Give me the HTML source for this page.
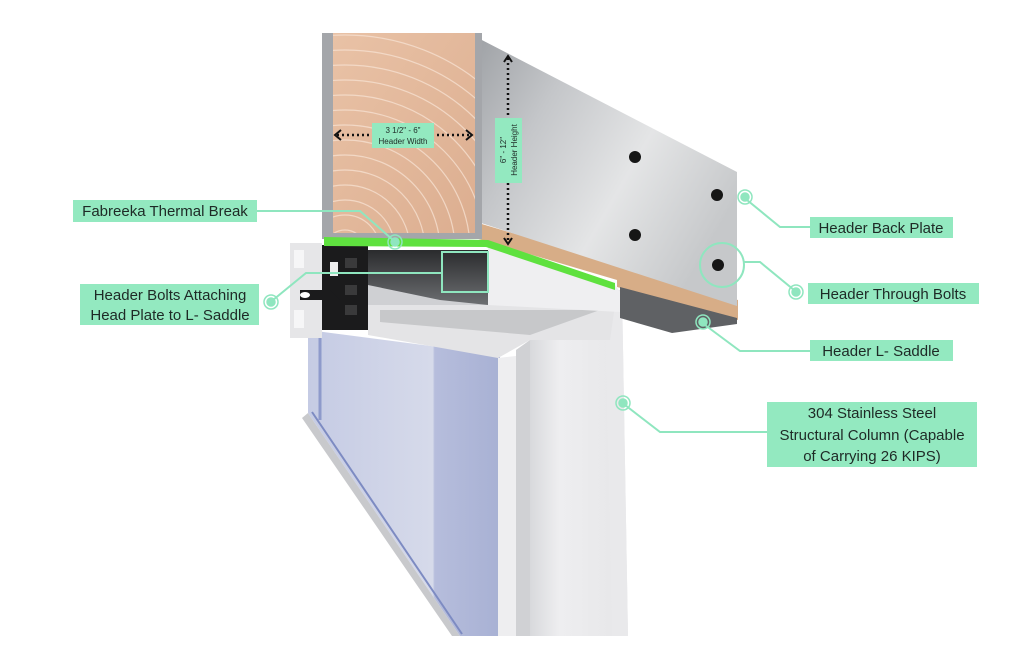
<!DOCTYPE html>
<html><head><meta charset="utf-8"><style>
html,body{margin:0;padding:0;background:#fff;width:1024px;height:658px;overflow:hidden}
svg{display:block}
.lb{font-family:"Liberation Sans",sans-serif;font-size:15px;fill:#1e2a26}
.sm{font-family:"Liberation Sans",sans-serif;font-size:8px;fill:#1e2a26}
</style></head><body>
<svg width="1024" height="658" viewBox="0 0 1024 658" xmlns="http://www.w3.org/2000/svg">
<defs>
<linearGradient id="steel" x1="0" y1="0" x2="1" y2="0.6">
<stop offset="0" stop-color="#9fa2a6"/><stop offset="0.3" stop-color="#c4c6c9"/><stop offset="0.65" stop-color="#e4e5e6"/><stop offset="1" stop-color="#c6c8ca"/></linearGradient>
<linearGradient id="wood" x1="0" y1="0" x2="1" y2="1">
<stop offset="0" stop-color="#e9c2a6"/><stop offset="1" stop-color="#dcae90"/></linearGradient>
<linearGradient id="glass" x1="0" y1="0" x2="1" y2="0">
<stop offset="0" stop-color="#c5cbe4"/><stop offset="0.65" stop-color="#d6daea"/><stop offset="0.66" stop-color="#b6bddc"/><stop offset="1" stop-color="#a8b1d4"/></linearGradient>
<linearGradient id="col" x1="0" y1="0" x2="1" y2="0">
<stop offset="0" stop-color="#d8d9dc"/><stop offset="0.3" stop-color="#eeeef0"/><stop offset="1" stop-color="#e6e6e8"/></linearGradient>
<linearGradient id="dark" x1="0" y1="0" x2="0" y2="1">
<stop offset="0" stop-color="#2a2b2d"/><stop offset="1" stop-color="#6d6f72"/></linearGradient>
<clipPath id="wc"><rect x="333" y="33" width="142" height="200"/></clipPath>
</defs>

<!-- Glass -->
<polygon points="308,330 500,355 500,636 460,636 308,413" fill="url(#glass)"/>
<polygon points="308,413 460,636 452,636 302,418" fill="#c8c9cc"/>
<line x1="320" y1="330" x2="320" y2="420" stroke="#8e9acb" stroke-width="3"/>
<line x1="312" y1="412" x2="462" y2="634" stroke="#7d8bc2" stroke-width="2"/>
<!-- inner jamb -->
<polygon points="498,358 516,356 516,636 498,636" fill="#eeeef0"/>
<polygon points="516,350 530,340 530,636 516,636" fill="#d0d1d4"/>
<!-- column -->
<polygon points="530,340 615,290 622,290 628,636 530,636" fill="url(#col)"/>
<polygon points="605,295 622,290 628,636 612,636" fill="#e9e9eb"/>
<!-- lower white bar (head) -->
<polygon points="368,305 615,305 610,340 530,340 498,358 368,335" fill="#e4e4e6"/>
<polygon points="380,310 600,310 530,335 380,322" fill="#c7c8ca"/>
<!-- upper right white block -->
<polygon points="488,245 615,285 620,292 620,312 488,305" fill="#efeff1"/>
<!-- dark interior -->
<polygon points="368,250 488,250 488,305 368,305" fill="url(#dark)"/>
<polygon points="368,285 440,300 488,305 368,305" fill="#cfd0d3"/>
<!-- black profile -->
<rect x="322" y="245" width="46" height="85" fill="#1b1b1c"/>
<rect x="330" y="262" width="8" height="14" fill="#eee"/>
<rect x="345" y="258" width="12" height="10" fill="#3a3a3b"/>
<rect x="345" y="285" width="12" height="10" fill="#3a3a3b"/>
<rect x="345" y="305" width="12" height="10" fill="#3a3a3b"/>
<!-- left white profile -->
<polygon points="290,243 322,243 322,338 290,338" fill="#e6e6e8"/>
<rect x="294" y="250" width="10" height="18" fill="#f6f6f7"/>
<rect x="294" y="310" width="10" height="18" fill="#f6f6f7"/>
<polygon points="300,290 330,290 340,300 300,300" fill="#1b1b1c"/>
<ellipse cx="305" cy="295" rx="5" ry="3" fill="#fff"/>

<!-- wood strip under steel -->
<polygon points="475,222 738,300 738,320 617,287 617,280 475,238" fill="#d7ad87"/>
<!-- saddle underside -->
<polygon points="620,287 737,318 737,324 672,333 620,318" fill="#5f6164"/>
<!-- steel side -->
<polygon points="478,38 737,172 737,306 478,222" fill="url(#steel)"/>
<!-- steel front frame -->
<rect x="322" y="33" width="160" height="206" fill="#a4a6aa"/>
<!-- wood face -->
<rect x="333" y="33" width="142" height="200" fill="url(#wood)"/>
<g fill="none" stroke="#f6e0d0" stroke-width="1.2" opacity="0.8" clip-path="url(#wc)">
<circle cx="345" cy="250" r="20"/><circle cx="345" cy="250" r="35"/><circle cx="345" cy="250" r="50"/><circle cx="345" cy="250" r="65"/><circle cx="345" cy="250" r="80"/><circle cx="345" cy="250" r="95"/><circle cx="345" cy="250" r="110"/><circle cx="345" cy="250" r="125"/><circle cx="345" cy="250" r="140"/><circle cx="345" cy="250" r="155"/><circle cx="345" cy="250" r="170"/><circle cx="345" cy="250" r="185"/><circle cx="345" cy="250" r="200"/><circle cx="345" cy="250" r="215"/>
</g>
<!-- green thermal break -->
<polygon points="324,237 488,240 615,283 615,290 486,247 324,246" fill="#5fe13f"/>

<!-- bolts -->
<g fill="#161616"><circle cx="635" cy="157" r="6"/><circle cx="717" cy="195" r="6"/><circle cx="635" cy="235" r="6"/><circle cx="718" cy="265" r="6"/></g>

<!-- dims -->
<g stroke="#111" stroke-width="2.5" stroke-dasharray="2 3" fill="none">
<line x1="337" y1="135" x2="470" y2="135"/>
<line x1="508" y1="58" x2="508" y2="242"/>
</g>
<g stroke="#111" stroke-width="2" fill="none">
<polyline points="341,130 335,135 341,140"/><polyline points="466,130 472,135 466,140"/>
<polyline points="504,62 508,56 512,62"/><polyline points="504,238 508,244 512,238"/>
</g>
<rect x="372" y="123" width="62" height="25" fill="#93e9c0"/>
<text class="sm" x="403" y="133" text-anchor="middle">3 1/2" - 6"</text>
<text class="sm" x="403" y="144" text-anchor="middle">Header Width</text>
<rect x="495" y="118" width="27" height="65" fill="#93e9c0"/>
<text class="sm" transform="translate(506,150) rotate(-90)" text-anchor="middle">6" - 12"</text>
<text class="sm" transform="translate(517,150) rotate(-90)" text-anchor="middle">Header Height</text>

<!-- connectors -->
<g stroke="#8fe6bf" stroke-width="2" fill="none">
<polyline points="257,211 360,211 393,240"/>
<polyline points="273,300 306,273 442,273"/>
<rect x="442" y="252" width="46" height="40"/>
<polyline points="747,200 780,227 810,227"/>
<circle cx="722" cy="265" r="22"/>
<polyline points="744,262 760,262 794,290"/>
<polyline points="705,325 740,351 810,351"/>
<polyline points="625,405 660,432 767,432"/>
</g>
<g fill="#8fe6bf" stroke="#8fe6bf" stroke-width="1.5">
<circle cx="395" cy="242" r="4"/><circle cx="271" cy="302" r="4"/><circle cx="745" cy="197" r="4"/><circle cx="796" cy="292" r="4"/><circle cx="703" cy="322" r="4"/><circle cx="623" cy="403" r="4"/>
</g>
<g fill="none" stroke="#8fe6bf" stroke-width="1.5">
<circle cx="395" cy="242" r="7"/><circle cx="271" cy="302" r="7"/><circle cx="745" cy="197" r="7"/><circle cx="796" cy="292" r="7"/><circle cx="703" cy="322" r="7"/><circle cx="623" cy="403" r="7"/>
</g>

<!-- labels -->
<g fill="#93e9c0">
<rect x="73" y="200" width="184" height="22"/>
<rect x="80" y="284" width="179" height="41"/>
<rect x="810" y="217" width="143" height="21"/>
<rect x="808" y="283" width="171" height="21"/>
<rect x="810" y="340" width="143" height="21"/>
<rect x="767" y="402" width="210" height="65"/>
</g>
<text class="lb" x="165" y="216" text-anchor="middle">Fabreeka Thermal Break</text>
<text class="lb" x="170" y="300" text-anchor="middle">Header Bolts Attaching</text>
<text class="lb" x="170" y="320" text-anchor="middle">Head Plate to L- Saddle</text>
<text class="lb" x="881" y="233" text-anchor="middle">Header Back Plate</text>
<text class="lb" x="893" y="299" text-anchor="middle">Header Through Bolts</text>
<text class="lb" x="881" y="356" text-anchor="middle">Header L- Saddle</text>
<text class="lb" x="872" y="418" text-anchor="middle">304 Stainless Steel</text>
<text class="lb" x="872" y="440" text-anchor="middle">Structural Column (Capable</text>
<text class="lb" x="872" y="461" text-anchor="middle">of Carrying 26 KIPS)</text>
</svg>
</body></html>
